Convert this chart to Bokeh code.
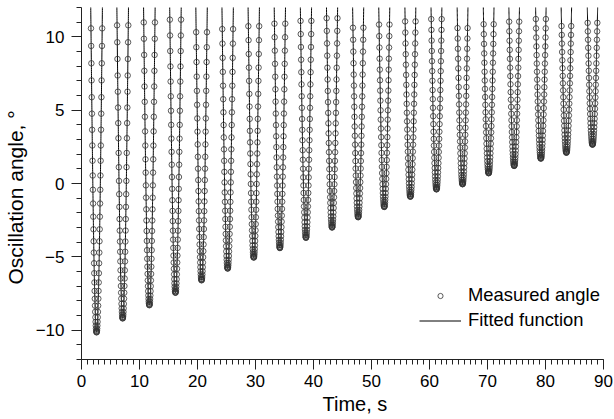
import numpy as np
from bokeh.plotting import figure
from bokeh.models import Range1d, Legend, LegendItem, FixedTicker, Title
from bokeh.embed import file_html
from bokeh.resources import INLINE

# ---- values -----------------------------------------------------------
# time (s) and angle (deg) of the lowest point of every swing
cycle_time = [2.6, 7.1, 11.7, 16.2, 20.7, 25.2, 29.7, 34.2, 38.7, 43.2,
              47.7, 52.2, 56.7, 61.2, 65.7, 70.2, 74.6, 79.2, 83.6, 88.1]
cycle_min = [-10.15, -9.2, -8.3, -7.45, -6.6, -5.8, -5.05, -4.4, -3.7, -3.0,
             -2.3, -1.6, -0.9, -0.4, -0.05, 0.7, 1.2, 1.7, 2.1, 2.65]
center_angle = 16.4      # estimated centre of the swing (peaks are off the chart)
period = 4.5             # s, spacing of the minima
sample_rate = 30.0       # Hz, estimated from the spacing of the circles
measured_top = 11.3      # circles are only seen below this angle

x_ticks = [0, 10, 20, 30, 40, 50, 60, 70, 80, 90]
y_ticks = [-10, -5, 0, 5, 10]
x_minor = list(range(0, 91))
y_minor = list(range(-12, 13))

FONT = "Liberation Sans"


def fitted(t):
    """Fitted swing: each cycle is a cosine through its read minimum."""
    out = np.full_like(t, np.nan, dtype=float)
    for tk, mk in zip(cycle_time, cycle_min):
        sel = (t >= tk - period / 2) & (t < tk + period / 2)
        out[sel] = center_angle - (center_angle - mk) * np.cos(2 * np.pi * (t[sel] - tk) / period)
    return out


t_fit = np.arange(0.0, 90.0 + 1e-9, 0.004)
y_fit = fitted(t_fit)
y_fit[y_fit > 13.0] = np.nan

t_meas = np.arange(0.0, 90.0, 1.0 / sample_rate)
y_meas = fitted(t_meas)
keep = np.isfinite(y_meas) & (y_meas <= measured_top)
t_meas, y_meas = t_meas[keep], y_meas[keep]

p = figure(width=614, height=419, x_range=Range1d(0, 90), y_range=Range1d(-12, 12),
           output_backend="svg", toolbar_location=None,
           min_border_left=0, min_border_right=11, min_border_top=7, min_border_bottom=0)
p.xgrid.visible = False
p.ygrid.visible = False
p.outline_line_color = None
p.background_fill_color = "white"
p.border_fill_color = "white"

p.xaxis.ticker = FixedTicker(ticks=x_ticks, minor_ticks=x_minor)
p.yaxis.ticker = FixedTicker(ticks=y_ticks, minor_ticks=y_minor)
for ax in (p.xaxis[0], p.yaxis[0]):
    ax.major_tick_out = 10
    ax.major_tick_in = 0
    ax.minor_tick_out = 5
    ax.minor_tick_in = 0
    ax.axis_line_color = "#222222"
    ax.major_tick_line_color = "#222222"
    ax.minor_tick_line_color = "#222222"
    ax.major_label_text_font = FONT
    ax.major_label_text_font_size = "17px"
    ax.major_label_text_color = "black"
p.xaxis.major_label_standoff = 5
p.yaxis.major_label_standoff = 7

line_r = p.line(t_fit, y_fit, line_color="black", line_width=1)
circ_r = p.scatter(t_meas, y_meas, marker="circle", size=5.5, fill_color=None,
                   line_color="#333333", line_width=0.8)

legend = Legend(items=[LegendItem(label="Measured angle", renderers=[circ_r]),
                       LegendItem(label="Fitted function", renderers=[line_r])],
                location=(338, 28), padding=0, margin=0, spacing=3,
                glyph_width=42, glyph_height=13, label_height=20, label_standoff=7,
                border_line_color=None, background_fill_alpha=0,
                label_text_font=FONT, label_text_font_size="18.4px", label_text_color="black")
p.add_layout(legend, "center")

p.add_layout(Title(text="Time, s", align="left", offset=241, vertical_align="top",
                   standoff=6, text_font=FONT, text_font_size="20px",
                   text_font_style="normal", text_color="black"), "below")
p.add_layout(Title(text="Oscillation angle, °", align="left", offset=75, vertical_align="top",
                   standoff=7, text_font=FONT, text_font_size="21px",
                   text_font_style="normal", text_color="black"), "left")

open("out.html", "w").write(file_html(p, INLINE))
